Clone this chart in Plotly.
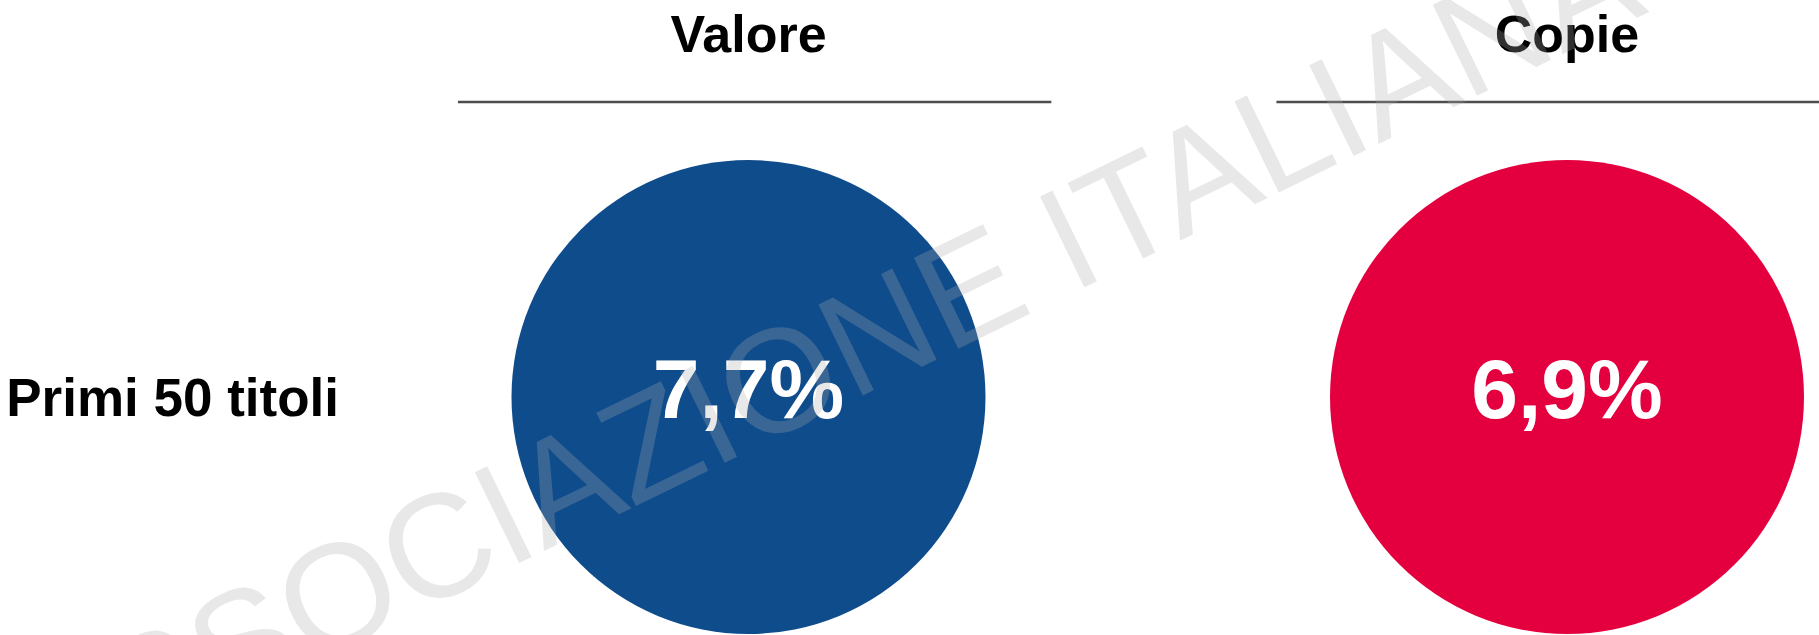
import plotly.graph_objects as go

# ---- data ----
columns = ["Valore", "Copie"]
rows = ["Primi 50 titoli"]
values = [7.7, 6.9]
colors = ["#0f4c8c", "#e4003f"]
watermark = "ASSOCIAZIONE ITALIANA EDITORI"

labels = [f"{v:.1f}".replace(".", ",") + "%" for v in values]

W, H = 1819, 635
L, R, T, B = 347, 0, 63, 0

cx0, cx1, cy = 748.5, 1567, 397
line_y = 102

fig = go.Figure()
fig.add_trace(go.Scatter(
    x=columns,
    y=[rows[0]] * len(columns),
    mode="markers+text",
    marker=dict(size=474, color=colors, line=dict(width=0)),
    text=labels,
    textposition="middle center",
    textfont=dict(family="Arial, Liberation Sans", size=84, color="white", weight="bold"),
    hoverinfo="skip",
    showlegend=False,
))

# header underline segments (relative to category index)
for i, _ in enumerate(columns):
    fig.add_shape(type="line", xref="x", yref="paper",
                  x0=i - 0.355, x1=i + 0.37,
                  y0=(H - B - line_y) / (H - T - B), y1=(H - B - line_y) / (H - T - B),
                  line=dict(color="#4d4d4d", width=2.5))

# watermark
fig.add_annotation(
    text=watermark, xref="paper", yref="paper",
    x=(1106 - L) / (W - L - R), y=(H - B - 220) / (H - T - B),
    xanchor="center", yanchor="middle", showarrow=False, textangle=-26.0,
    font=dict(family="Arial, Liberation Sans", size=147, color="rgba(172,172,172,0.28)"),
)

unit = cx1 - cx0
fig.update_layout(
    width=W, height=H,
    margin=dict(l=L, r=R, t=T, b=B, pad=0),
    paper_bgcolor="white", plot_bgcolor="white",
    font=dict(family="Arial, Liberation Sans", color="black"),
    xaxis=dict(
        type="category", side="top", automargin=False,
        range=[(L - cx0) / unit, 1 + (W - R - cx1) / unit],
        showgrid=False, zeroline=False, showline=False, ticks="",
        tickfont=dict(size=52, weight="bold", color="black"),
    ),
    yaxis=dict(
        type="category", automargin=False, ticklabelstandoff=7,
        range=[-(H - B - cy) / (H - T - B), 1 - (H - B - cy) / (H - T - B)],
        showgrid=False, zeroline=False, showline=False, ticks="",
        tickfont=dict(size=53, weight="bold", color="black"),
    ),
)

fig.write_html(
    "out.html",
    config={"displayModeBar": False},
    post_script="document.body.style.margin='0';document.body.style.overflow='hidden';",
)
